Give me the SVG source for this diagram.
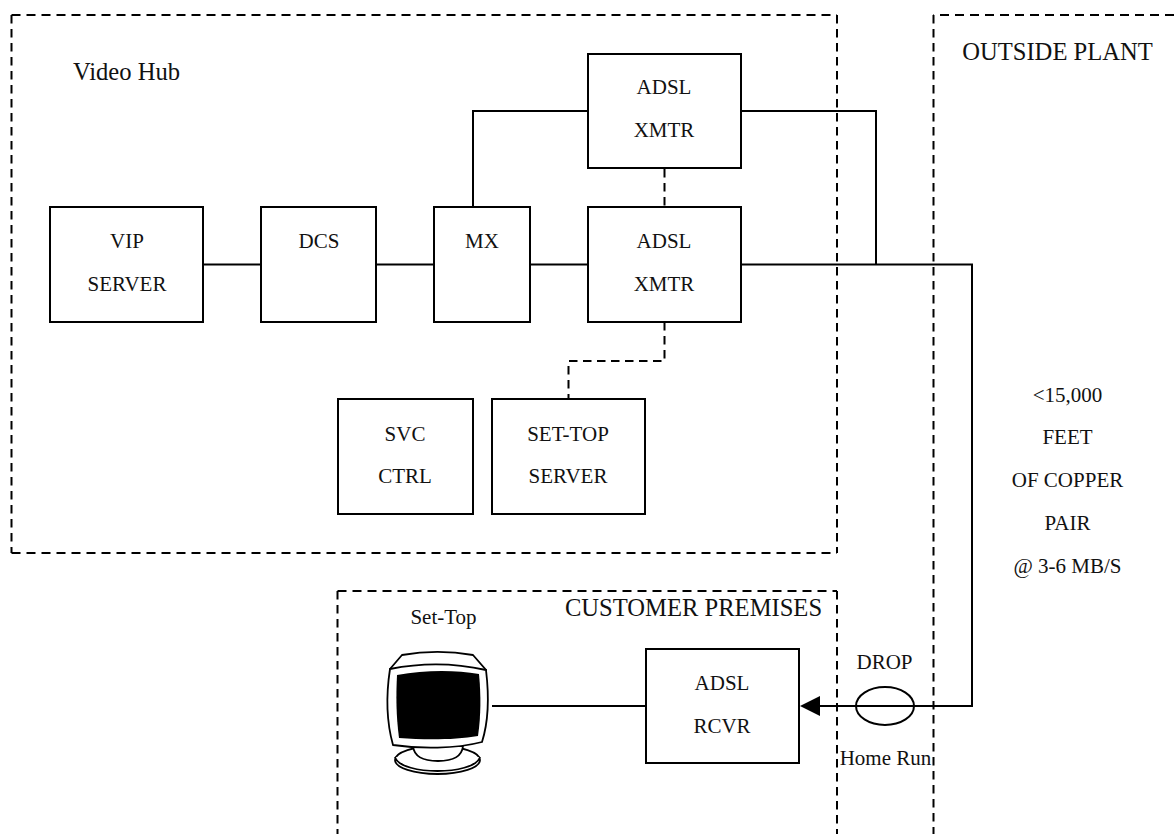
<svg xmlns="http://www.w3.org/2000/svg" width="1174" height="834" viewBox="0 0 1174 834">
<style>
text{font-family:"Liberation Serif","Times New Roman",serif;font-size:21px;fill:#111;text-anchor:middle}
.big{font-size:24.6px}
.b{fill:#fff;stroke:#000;stroke-width:2}
.l{fill:none;stroke:#000;stroke-width:2}
.d{fill:none;stroke:#000;stroke-width:2;stroke-dasharray:9 6}
.dv{fill:none;stroke:#000;stroke-width:2;stroke-dasharray:8.500 5.500}
.m{fill:#fff;stroke:#000;stroke-width:1.800}
</style>
<rect width="1174" height="834" fill="#fff"/>
<g id="regions">
<path class="d" d="M11.500 15H837"/>
<path class="dv" d="M11.500 15V553"/>
<path class="dv" d="M837 15V553"/>
<path class="d" d="M11.500 553H837"/>
<path class="d" d="M1174 15H933.500"/>
<path class="dv" d="M933.500 15V834"/>
<path class="d" d="M337.500 591H837"/>
<path class="dv" d="M337.500 591V834"/>
<path class="dv" d="M837 591V834"/>
</g>
<g id="connectors">
<path class="l" d="M203 264.500H261M376 264.500H434M530 264.500H588M741 264.500H972V706H818"/>
<path class="l" d="M473 207V111H588M741 111H876V264.500"/>
<path class="l" d="M492 706H646"/>
<path class="dv" d="M664.500 169V207"/>
<path class="dv" d="M664.500 322V361H568.500V399"/>
<polygon points="800,706 820,696 820,716" fill="#000"/>
</g>
<g id="vip"><rect class="b" x="50" y="207" width="153" height="115"/><text x="127" y="248">VIP</text><text x="127" y="291">SERVER</text></g>
<g id="dcs"><rect class="b" x="261" y="207" width="115" height="115"/><text x="319" y="248">DCS</text></g>
<g id="mx"><rect class="b" x="434" y="207" width="96" height="115"/><text x="482" y="248">MX</text></g>
<g id="xmtr1"><rect class="b" x="588" y="54" width="153" height="114"/><text x="664" y="94">ADSL</text><text x="664" y="137">XMTR</text></g>
<g id="xmtr2"><rect class="b" x="588" y="207" width="153" height="115"/><text x="664" y="248">ADSL</text><text x="664" y="291">XMTR</text></g>
<g id="svc"><rect class="b" x="338" y="399" width="135" height="115"/><text x="405" y="441">SVC</text><text x="405" y="483">CTRL</text></g>
<g id="settop-server"><rect class="b" x="492" y="399" width="153" height="115"/><text x="568" y="441">SET-TOP</text><text x="568" y="483">SERVER</text></g>
<g id="rcvr"><rect class="b" x="646" y="649" width="153" height="114"/><text x="722" y="690">ADSL</text><text x="722" y="733">RCVR</text></g>
<g id="drop"><ellipse cx="885" cy="706" rx="29" ry="19" fill="none" stroke="#000" stroke-width="2"/><text x="884.500" y="669">DROP</text><text x="885.500" y="765">Home Run</text></g>
<g id="monitor">
<ellipse class="m" cx="437.500" cy="760" rx="42.500" ry="14"/>
<path class="m" d="M395 757C398 767 420 771 437.500 771C455 771 477 767 480 757"/>
<path class="m" d="M413 746C414 757 425 761 438 761C451 761 462 757 463 746Z"/>
<path class="m" d="M390 669L402 655C425 651 450 651 473 655L486 670L480 690H395Z"/>
<path class="m" d="M390 669C420 663 455 663 486 670C489 695 489 720 482 742C455 749 420 749 393 745C386 720 386 695 390 669Z"/>
<path d="M397 675C425 670 455 670 479 674C481 695 481 715 478 736C455 740 425 740 399 738C396 715 396 695 397 675Z" fill="#000"/>
</g>
<g id="labels">
<text class="big" x="126.500" y="80">Video Hub</text>
<text class="big" x="1057.500" y="60">OUTSIDE PLANT</text>
<text class="big" x="693.500" y="616">CUSTOMER PREMISES</text>
<text x="443.500" y="624">Set-Top</text>
<text x="1067.500" y="402">&lt;15,000</text>
<text x="1067.500" y="444">FEET</text>
<text x="1067.500" y="487">OF COPPER</text>
<text x="1067.500" y="530">PAIR</text>
<text x="1067.500" y="573">@ 3-6 MB/S</text>
</g>
</svg>
